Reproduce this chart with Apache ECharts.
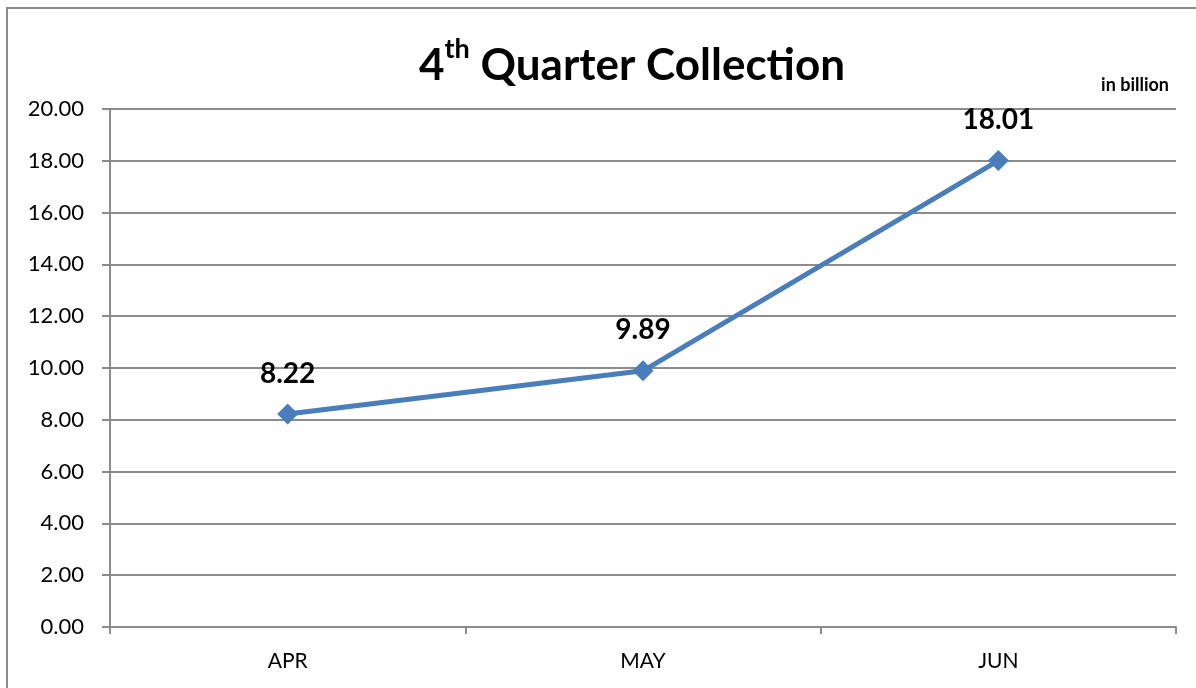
<!DOCTYPE html>
<html><head><meta charset="utf-8">
<script src="https://cdn.jsdelivr.net/npm/echarts@6/dist/echarts.min.js"></script>
<style>html,body{margin:0;padding:0;background:#fff}#c{width:1196px;height:688px}</style>
</head><body><div id="c"></div>
<script>
const categories = ['APR', 'MAY', 'JUN'];
const values = [8.22, 9.89, 18.01];
const yTicks = { min: 0, max: 20, interval: 2 };

const chart = echarts.init(document.getElementById('c'));
const FONT = 'Lato, "Open Sans", sans-serif';
chart.setOption({
  backgroundColor: '#fff',
  animation: false,
  graphic: [{
    type: 'rect', shape: { x: 7, y: 8, width: 1300, height: 800 },
    style: { fill: 'none', stroke: '#8c8c8c', lineWidth: 2 }, silent: true
  }, {
    type: 'text', x: 1169, y: 85,
    style: { text: 'in billion', font: 'bold 18px ' + FONT, fill: '#000', align: 'right', verticalAlign: 'middle' }
  }],
  title: {
    text: '{n|4}{s|th}{n| Quarter Collection}',
    left: 414, top: 31,
    textStyle: {
      rich: {
        n: { fontFamily: FONT, fontWeight: 'bold', fontSize: 44, color: '#000', verticalAlign: 'bottom', lineHeight: 52 },
        s: { fontFamily: FONT, fontWeight: 'bold', fontSize: 27, color: '#000', verticalAlign: 'top', lineHeight: 52, padding: [0, 0, 16, 0] }
      }
    }
  },
  grid: { left: 110, right: 20, top: 109, bottom: 61, containLabel: false },
  xAxis: {
    type: 'category', data: categories, boundaryGap: true,
    axisLine: { lineStyle: { color: '#8c8c8c', width: 2 } },
    axisTick: { show: true, length: 7, alignWithLabel: false, lineStyle: { color: '#8c8c8c', width: 2 } },
    axisLabel: { color: '#000', fontFamily: FONT, fontSize: 21, margin: 24 }
  },
  yAxis: {
    type: 'value', min: yTicks.min, max: yTicks.max, interval: yTicks.interval,
    axisLine: { show: true, lineStyle: { color: '#8c8c8c', width: 2 } },
    axisTick: { show: true, length: 8, lineStyle: { color: '#8c8c8c', width: 2 } },
    splitLine: { lineStyle: { color: '#8c8c8c', width: 2 } },
    axisLabel: { color: '#000', fontFamily: FONT, fontSize: 22, margin: 26, formatter: v => v.toFixed(2) }
  },
  series: [{
    type: 'line', data: values,
    lineStyle: { color: '#4a7ebb', width: 5 },
    itemStyle: { color: '#4a7ebb' },
    symbol: 'diamond', symbolSize: 21, showAllSymbol: true,
    label: { show: true, position: 'top', distance: 16, color: '#000', fontFamily: FONT, fontWeight: 'bold', fontSize: 28, formatter: p => p.value.toFixed(2) }
  }]
});
</script></body></html>
